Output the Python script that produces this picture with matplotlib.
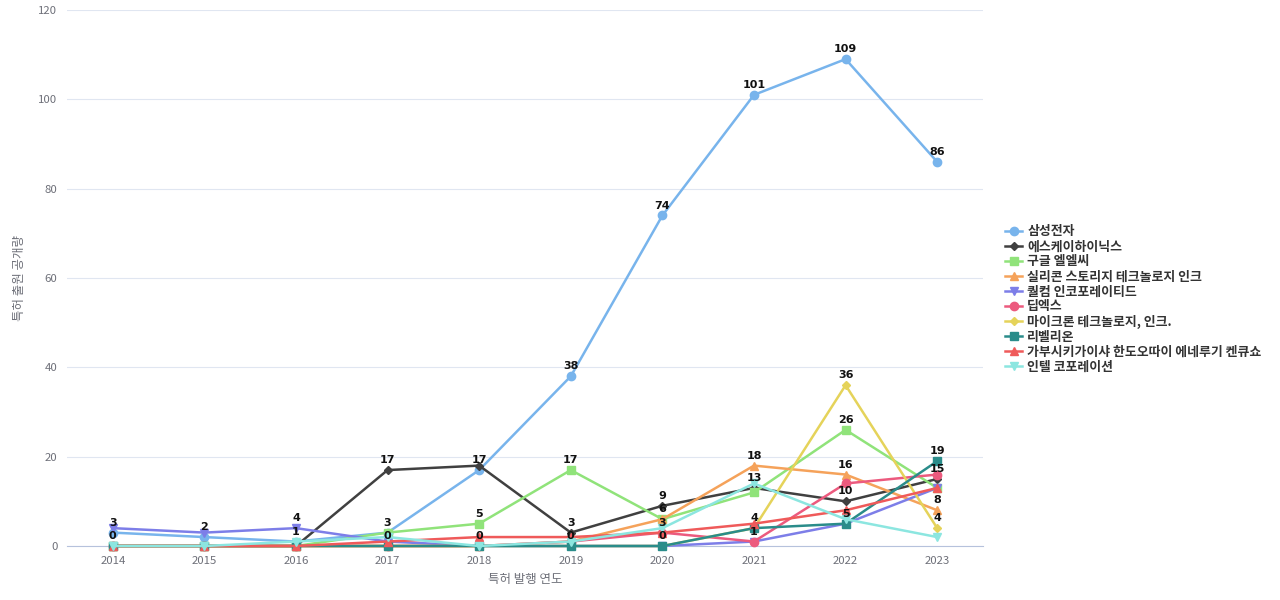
import matplotlib
matplotlib.use("Agg")
import matplotlib.pyplot as plt
from matplotlib.lines import Line2D
from matplotlib.transforms import Bbox

plt.rcParams['font.family'] = ['Noto Sans CJK KR', 'DejaVu Sans']

years = [2014, 2015, 2016, 2017, 2018, 2019, 2020, 2021, 2022, 2023]
series_names = ["삼성전자", "에스케이하이닉스", "구글 엘엘씨", "실리콘 스토리지 테크놀로지 인크",
                "퀄컴 인코포레이티드", "딥엑스", "마이크론 테크놀로지, 인크.", "리벨리온",
                "가부시키가이샤 한도오따이 에네루기 켄큐쇼", "인텔 코포레이션"]
samsung = [3, 2, 1, 3, 17, 38, 74, 101, 109, 86]
sk_hynix = [0, 0, 0, 17, 18, 3, 9, 13, 10, 15]
google = [0, 0, 0, 3, 5, 17, 6, 12, 26, 13]
silicon_storage = [0, 0, 0, 0, 0, 1, 6, 18, 16, 8]
qualcomm = [4, 3, 4, 1, 0, 0, 0, 1, 5, 13]
deepx = [0, 0, 0, 0, 0, 1, 3, 1, 14, 16]
micron = [0, 0, 0, 0, 0, 0, 0, 4, 36, 4]
rebellions = [0, 0, 0, 0, 0, 0, 0, 4, 5, 19]
sel = [0, 0, 0, 1, 2, 2, 3, 5, 8, 13]
intel = [0, 0, 1, 2, 0, 1, 4, 14, 6, 2]
all_values = [samsung, sk_hynix, google, silicon_storage, qualcomm, deepx, micron, rebellions, sel, intel]

colors = ["#78b4ec", "#404040", "#90e37a", "#f5a25a", "#7d7ee8", "#ec5a7e", "#e5d35a", "#2a8c8a", "#ef5a5a", "#8ce6e0"]
markers = ["o", "D", "s", "^", "v", "o", "D", "s", "^", "v"]
msizes = [6, 4.5, 6, 6, 6, 6, 4.5, 6, 6, 6]

fig = plt.figure(figsize=(12.8, 6), dpi=100)
ax = fig.add_axes([67/1280, 1 - 546/600, (983-67)/1280, (546-10)/600])

xs = list(range(len(years)))
for vals, c, m, ms in zip(all_values, colors, markers, msizes):
    ax.plot(xs, vals, color=c, marker=m, markersize=ms, linewidth=1.8, zorder=3, clip_on=False)

ax.set_xlim(-0.5, len(years) - 0.5)
ax.set_ylim(0, 120)
ax.set_yticks(range(0, 121, 20))
ax.set_xticks(xs)
ax.set_xticklabels([str(y) for y in years])
ax.tick_params(axis='both', length=0, labelsize=8.2, colors="#6e7079", pad=7)
ax.grid(axis='y', color="#e0e6f1", linewidth=0.8)
ax.set_axisbelow(True)
for s in ['top', 'right', 'left']:
    ax.spines[s].set_visible(False)
ax.spines['bottom'].set_color("#b6c2dc")
ax.spines['bottom'].set_linewidth(0.8)

ax.set_xlabel("특허 발행 연도", fontsize=9, color="#6e7079", labelpad=5)
ax.set_ylabel("특허 출원 공개량", fontsize=9, color="#6e7079")
ax.yaxis.set_label_coords(-(67 - 26) / 916, 0.5)

# value labels with greedy overlap hiding
fig.canvas.draw()
renderer = fig.canvas.get_renderer()
placed = []
for vals in all_values:
    for i, v in enumerate(vals):
        t = ax.annotate(str(v), (i, v), xytext=(0, 3.5), textcoords='offset points',
                        ha='center', va='bottom', fontsize=8, fontweight='bold',
                        color="#111111", zorder=5, family=['DejaVu Sans'])
        bb = t.get_window_extent(renderer)
        cy = (bb.y0 + bb.y1) / 2
        box = Bbox([[bb.x0, cy - 5.5], [bb.x1, cy + 5.5]])
        if any(box.overlaps(p) for p in placed):
            t.remove()
        else:
            placed.append(box)

handles = [Line2D([0], [0], color=c, marker=m, markersize=ms, linewidth=1.8)
           for c, m, ms in zip(colors, markers, msizes)]
fig.legend(handles, series_names, loc='center left', bbox_to_anchor=(1000/1280, 301/600),
           frameon=False, handlelength=1.3, handletextpad=0.4,
           labelspacing=0.08, borderaxespad=0, labelcolor="#333333",
           prop={'weight': 'bold', 'size': 9.3})

fig.savefig("out.png", dpi=100)
